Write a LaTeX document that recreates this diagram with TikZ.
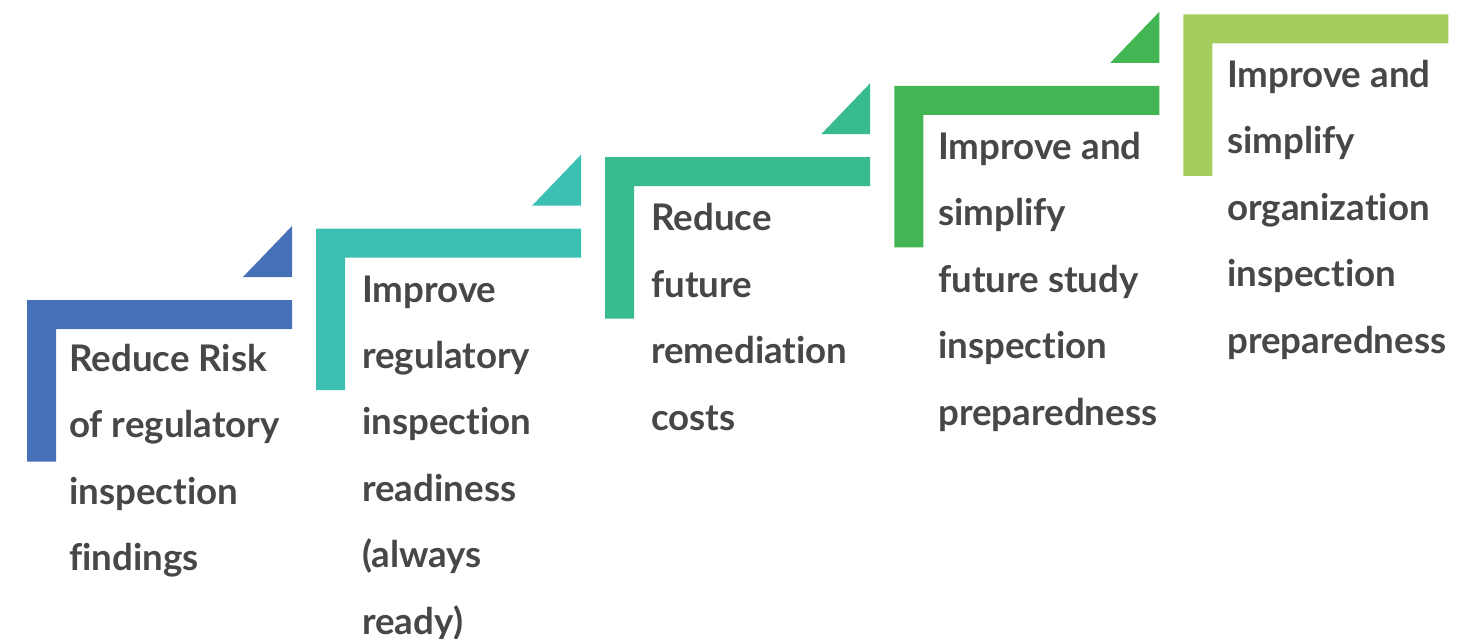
\documentclass[tikz,border=0pt]{standalone}
\usepackage{fontspec}
\setmainfont{Lato}[BoldFont={Lato Bold},RawFeature=-liga]
\definecolor{cA}{HTML}{4670B8}
\definecolor{cB}{HTML}{3BC0B1}
\definecolor{cC}{HTML}{38BB8E}
\definecolor{cD}{HTML}{42B653}
\definecolor{cE}{HTML}{A5CD5D}
\definecolor{txt}{HTML}{474747}
\tikzset{
  steptext/.style={anchor=base west, inner sep=0pt, align=left, text=txt,
    font=\fontsize{36.7}{66.4}\selectfont\bfseries},
}
\newcommand{\stepshape}[3]{%
  \fill[#3] (#1,#2) -- ++(265,0) -- ++(0,29) -- ++(-236,0) -- ++(0,132.5) -- ++(-29,0) -- cycle;
  \fill[#3] (#1+216,#2-23) -- ++(49,0) -- ++(0,-51) -- cycle;
}
\begin{document}
\begin{tikzpicture}[x=1pt,y=-1pt]
\useasboundingbox (0,0) rectangle (1483,639);
\stepshape{27}{300}{cA}
\stepshape{316.1}{228.6}{cB}
\stepshape{605.2}{157.2}{cC}
\stepshape{894.3}{85.8}{cD}
\stepshape{1183.4}{14.4}{cE}
% base anchor = baseline of the last line
\node[steptext] (t1) at (69,570.5) {Reduce Risk\\of regulatory\\inspection\\findings};
\node[steptext] (t2) at (362,634) {Improve\\regulatory\\inspection\\readiness\\(always\\ready)};
\node[steptext] (t3) at (651,430) {Reduce\\future\\remediation\\costs};
\node[steptext] (t4) at (938,425) {Improve and\\simplify\\future study\\inspection\\preparedness};
\node[steptext] (t5) at (1227,353) {Improve and\\simplify\\organization\\inspection\\preparedness};
\end{tikzpicture}
\end{document}
